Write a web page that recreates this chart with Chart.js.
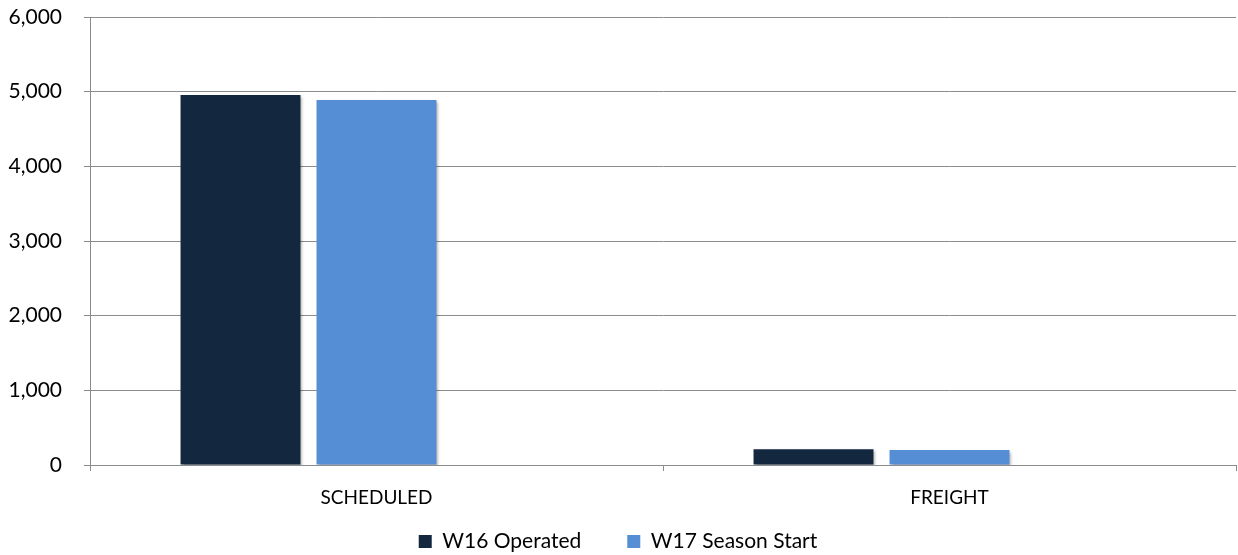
<!DOCTYPE html>
<html>
<head>
<meta charset="utf-8">
<script src="https://cdn.jsdelivr.net/npm/chart.js@4"></script>
<style>
  html, body { margin: 0; padding: 0; background: #fff; }
  #wrap { width: 1238px; height: 555px; position: relative; }
</style>
</head>
<body>
<div id="wrap"><canvas id="grafico"></canvas></div>
<script>
'use strict';

// Datos del gráfico
const categorias = ['SCHEDULED', 'FREIGHT'];
const serieW16 = [4955, 210];
const serieW17 = [4888, 201];
const serieVacia = [0, 0]; // tercera serie sin valores (reserva hueco como en el original)
const ticksY = [0, 1000, 2000, 3000, 4000, 5000, 6000];

const FUENTE = 'Lato, "Open Sans", sans-serif';
const GRIS = '#8c8c8c';

// sombra suave bajo las barras
const sombraBarras = {
  id: 'sombraBarras',
  beforeDatasetsDraw: function (chart) {
    const ctx = chart.ctx;
    ctx.save();
    ctx.shadowColor = 'rgba(0,0,0,0.35)';
    ctx.shadowOffsetX = 2;
    ctx.shadowOffsetY = 2;
    ctx.shadowBlur = 3;
  },
  afterDatasetsDraw: function (chart) {
    chart.ctx.restore();
  }
};

// el eje X es bajo (para dejar sitio a la leyenda), así que ampliamos su zona de recorte
const sinRecorteEjeX = {
  id: 'sinRecorteEjeX',
  afterLayout: function (chart) {
    if (chart.scales.x) chart.scales.x.bottom = chart.height;
  }
};

new Chart(document.getElementById('grafico').getContext('2d'), {
  type: 'bar',
  data: {
    labels: categorias,
    datasets: [
      { label: 'W16 Operated', data: serieW16, backgroundColor: '#13273f' },
      { label: 'W17 Season Start', data: serieW17, backgroundColor: '#558ed5' },
      { label: '', data: serieVacia, backgroundColor: 'rgba(0,0,0,0)' }
    ]
  },
  options: {
    responsive: true,
    maintainAspectRatio: false,
    animation: false,
    datasets: { bar: { categoryPercentage: 0.712, barPercentage: 0.882 } },
    layout: { padding: { top: 0, right: 2, left: 0, bottom: 0 } },
    scales: {
      x: {
        grid: { drawOnChartArea: false, drawTicks: true, tickLength: 6, color: GRIS, offset: true },
        border: { color: GRIS, width: 1 },
        ticks: { color: '#000', font: { family: FUENTE, size: 19 }, padding: 15 },
        afterFit: function (scale) { scale.height = 20; }
      },
      y: {
        min: 0,
        max: 6000,
        afterBuildTicks: function (scale) {
          scale.ticks = ticksY.map(function (v) { return { value: v }; });
        },
        grid: { color: GRIS, tickLength: 6 },
        border: { color: GRIS, width: 1 },
        ticks: {
          color: '#000',
          font: { family: FUENTE, size: 21 },
          padding: 22,
          callback: function (v) { return Number(v).toLocaleString('en-US'); }
        },
        afterFit: function (scale) {
          scale.width = 90;
          scale.paddingTop = 17;
          scale.paddingBottom = 10;
        }
      }
    },
    plugins: {
      legend: {
        position: 'bottom',
        maxHeight: 70,
        labels: {
          color: '#000',
          font: { family: FUENTE, size: 21 },
          boxWidth: 13,
          boxHeight: 13,
          padding: 46,
          filter: function (item) { return item.text !== ''; }
        }
      },
      tooltip: { enabled: false }
    }
  },
  plugins: [sombraBarras, sinRecorteEjeX]
});
</script>
</body>
</html>
